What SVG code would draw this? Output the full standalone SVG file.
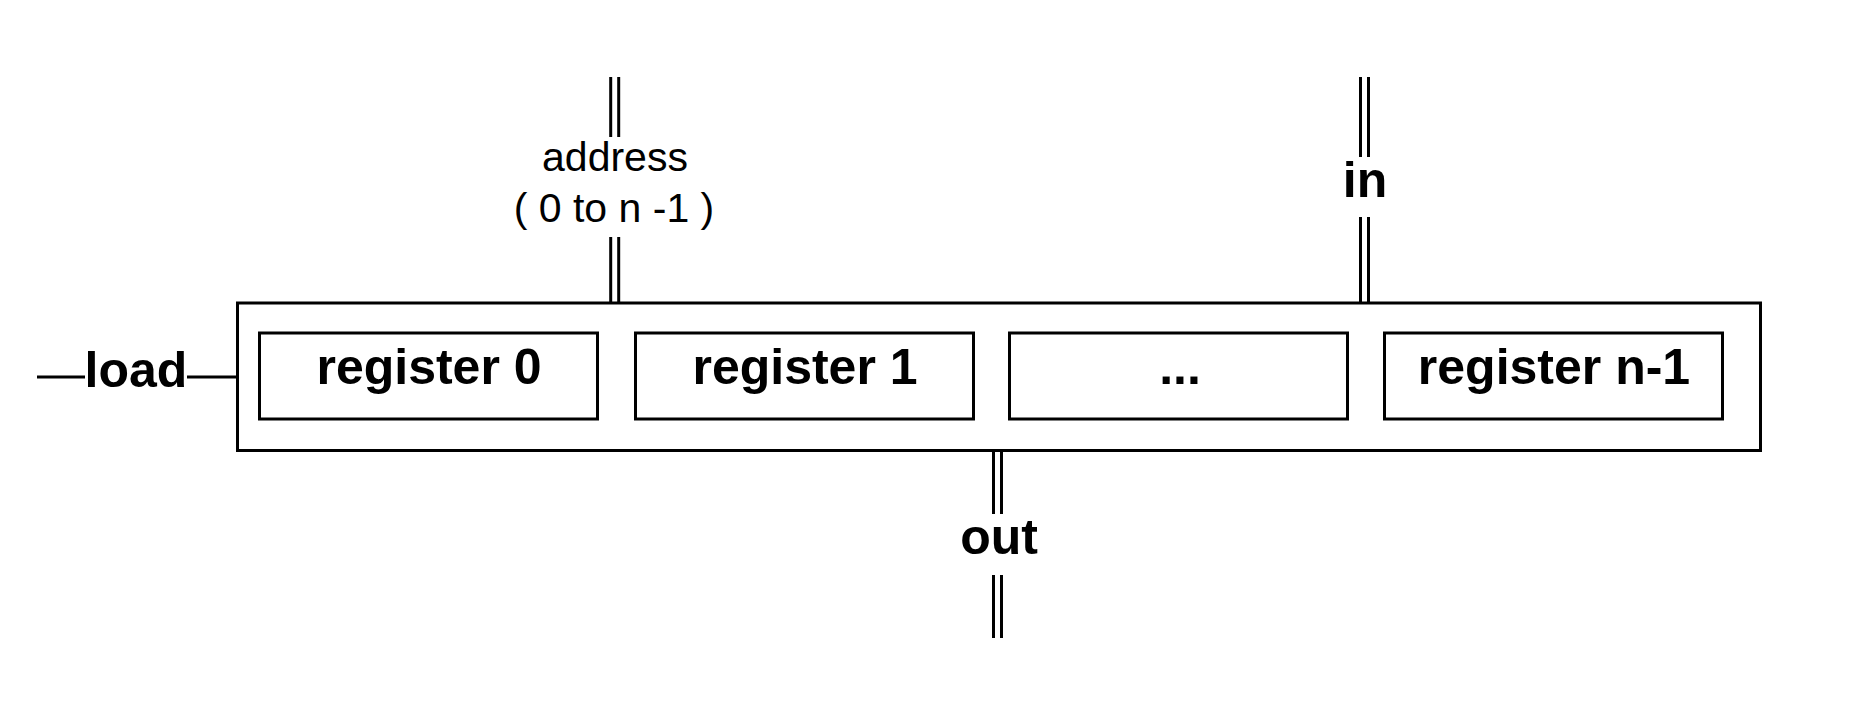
<svg xmlns="http://www.w3.org/2000/svg" width="1858" height="726" viewBox="0 0 1858 726">
  <style>
    .box { fill: #ffffff; stroke: #000000; stroke-width: 3; }
    .wire { stroke: #000000; stroke-width: 3; fill: none; }
    .bold { font-family: "Liberation Sans", Arial, sans-serif; font-weight: bold; font-size: 50px; fill: #000000; text-anchor: middle; }
    .reg { font-family: "Liberation Sans", Arial, sans-serif; font-size: 41px; fill: #000000; text-anchor: middle; }
  </style>
  <rect width="1858" height="726" fill="#ffffff"/>
  <g id="memory">
    <rect class="box" x="237.5" y="303" width="1523" height="147.5"/>
  </g>
  <g id="register0">
    <rect class="box" x="259.5" y="333" width="338" height="86"/>
    <text class="bold" x="429" y="384">register 0</text>
  </g>
  <g id="register1">
    <rect class="box" x="635.5" y="333" width="338" height="86"/>
    <text class="bold" x="805" y="384">register 1</text>
  </g>
  <g id="registerDots">
    <rect class="box" x="1009.5" y="333" width="338" height="86"/>
    <text class="bold" x="1180" y="384">...</text>
  </g>
  <g id="registerN1">
    <rect class="box" x="1384.5" y="333" width="338" height="86"/>
    <text class="bold" x="1554" y="384">register n-1</text>
  </g>
  <g id="connectors">
    <line class="wire" x1="37" y1="377" x2="85" y2="377"/>
    <line class="wire" x1="187" y1="377" x2="236" y2="377"/>
    <line class="wire" x1="610.7" y1="77" x2="610.7" y2="137"/>
    <line class="wire" x1="618.7" y1="77" x2="618.7" y2="137"/>
    <line class="wire" x1="610.7" y1="237" x2="610.7" y2="302"/>
    <line class="wire" x1="618.7" y1="237" x2="618.7" y2="302"/>
    <line class="wire" x1="1360.5" y1="77" x2="1360.5" y2="157"/>
    <line class="wire" x1="1368.5" y1="77" x2="1368.5" y2="157"/>
    <line class="wire" x1="1360.5" y1="217" x2="1360.5" y2="302"/>
    <line class="wire" x1="1368.5" y1="217" x2="1368.5" y2="302"/>
    <line class="wire" x1="993.5" y1="452" x2="993.5" y2="514"/>
    <line class="wire" x1="1001.5" y1="452" x2="1001.5" y2="514"/>
    <line class="wire" x1="993.5" y1="575" x2="993.5" y2="638"/>
    <line class="wire" x1="1001.5" y1="575" x2="1001.5" y2="638"/>
  </g>
  <g id="labels">
    <text class="bold" x="136" y="387">load</text>
    <text class="reg" x="615" y="171">address</text>
    <text class="reg" x="614" y="222">( 0 to n -1 )</text>
    <text class="bold" x="1365" y="197">in</text>
    <text class="bold" x="999" y="554">out</text>
  </g>
</svg>
